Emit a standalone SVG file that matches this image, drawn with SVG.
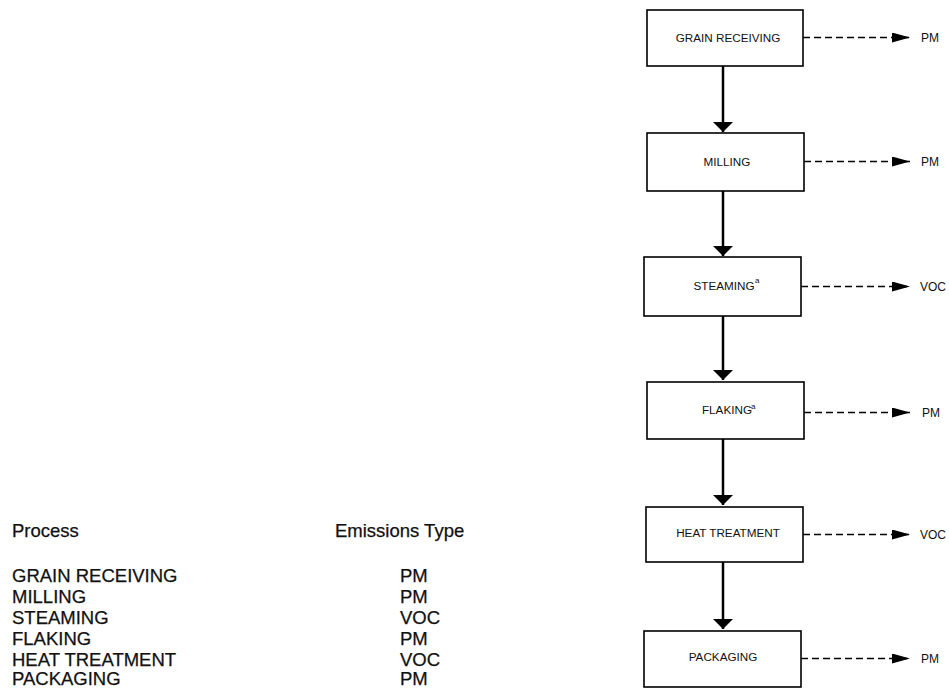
<svg xmlns="http://www.w3.org/2000/svg" width="949" height="689" viewBox="0 0 949 689">
<style>
.box{fill:#fff;stroke:#000;stroke-width:1.6}
.bt{font-family:"Liberation Sans",Arial,sans-serif;font-size:11.7px;fill:#111;text-anchor:middle}
.sup{font-family:"Liberation Sans",Arial,sans-serif;font-size:8px;fill:#111}
.lbl{font-family:"Liberation Sans",Arial,sans-serif;font-size:12px;fill:#111}
.flow{stroke:#000;stroke-width:2.5;fill:none;marker-end:url(#solid)}
.em{stroke:#000;stroke-width:1.4;stroke-dasharray:7,4;fill:none;marker-end:url(#dash)}
.tb{font-family:"Liberation Sans",Arial,sans-serif;font-size:18.5px;fill:#111;stroke:#111;stroke-width:0.25}
</style>
<defs>
<marker id="solid" viewBox="0 0 10 20" refX="10" refY="10" markerWidth="10" markerHeight="20" markerUnits="userSpaceOnUse" orient="auto">
<path d="M0,0 L10,10 L0,20 Z" fill="#000"/>
</marker>
<marker id="dash" viewBox="0 0 18 10" refX="18" refY="5" markerWidth="18" markerHeight="10" markerUnits="userSpaceOnUse" orient="auto">
<path d="M0,0 L18,5 L0,10 Z" fill="#000"/>
</marker>
</defs>
<g id="connectors">
<line class="flow" x1="723" y1="66" x2="723" y2="132"/>
<line class="flow" x1="723" y1="191" x2="723" y2="256"/>
<line class="flow" x1="723" y1="316" x2="723" y2="380"/>
<line class="flow" x1="723" y1="439" x2="723" y2="505"/>
<line class="flow" x1="723" y1="562" x2="723" y2="629"/>
<line class="em" x1="803" y1="37.5" x2="910" y2="37.5"/>
<line class="em" x1="804" y1="161.5" x2="910" y2="161.5"/>
<line class="em" x1="801" y1="286.5" x2="910" y2="286.5"/>
<line class="em" x1="804" y1="412.5" x2="910" y2="412.5"/>
<line class="em" x1="803" y1="534.5" x2="910" y2="534.5"/>
<line class="em" x1="801" y1="658.5" x2="910" y2="658.5"/>
</g>
<g id="grain-receiving">
<rect class="box" x="647" y="10" width="156" height="56"/>
<text class="bt" x="728" y="42">GRAIN RECEIVING</text>
</g>
<g id="milling">
<rect class="box" x="647" y="133" width="157" height="58"/>
<text class="bt" x="727" y="166">MILLING</text>
</g>
<g id="steaming">
<rect class="box" x="644" y="257" width="157" height="59"/>
<text class="bt" x="724" y="290">STEAMING</text>
<text class="sup" x="755" y="283">a</text>
</g>
<g id="flaking">
<rect class="box" x="647" y="382" width="157" height="57"/>
<text class="bt" x="727" y="414">FLAKING</text>
<text class="sup" x="751" y="409">a</text>
</g>
<g id="heat-treatment">
<rect class="box" x="646" y="507" width="157" height="55"/>
<text class="bt" x="728" y="537">HEAT TREATMENT</text>
</g>
<g id="packaging">
<rect class="box" x="644" y="631" width="157" height="56"/>
<text class="bt" x="723" y="661">PACKAGING</text>
</g>
<g id="labels">
<text class="lbl" x="921" y="42">PM</text>
<text class="lbl" x="921" y="166">PM</text>
<text class="lbl" x="920" y="291">VOC</text>
<text class="lbl" x="922" y="417">PM</text>
<text class="lbl" x="920" y="539">VOC</text>
<text class="lbl" x="921" y="663">PM</text>
</g>
<g id="table">
<text class="tb" x="12" y="537">Process</text>
<text class="tb" x="335" y="537">Emissions Type</text>
<text class="tb" x="12" y="582">GRAIN RECEIVING</text>
<text class="tb" x="12" y="603">MILLING</text>
<text class="tb" x="12" y="624">STEAMING</text>
<text class="tb" x="12" y="645">FLAKING</text>
<text class="tb" x="12" y="666">HEAT TREATMENT</text>
<text class="tb" x="12" y="685">PACKAGING</text>
<text class="tb" x="400" y="582">PM</text>
<text class="tb" x="400" y="603">PM</text>
<text class="tb" x="400" y="624">VOC</text>
<text class="tb" x="400" y="645">PM</text>
<text class="tb" x="400" y="666">VOC</text>
<text class="tb" x="400" y="685">PM</text>
</g>
</svg>
